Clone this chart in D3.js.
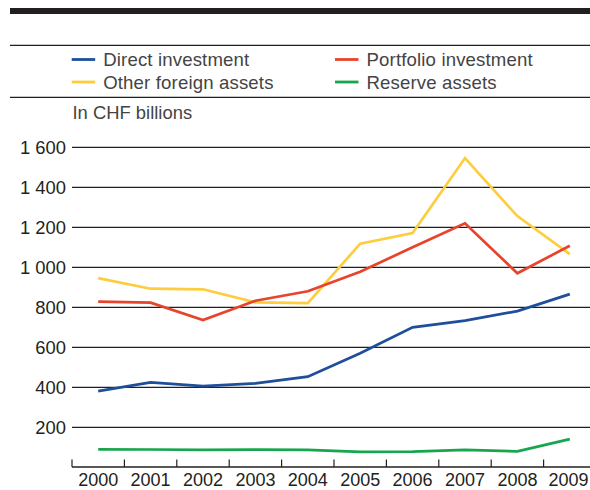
<!DOCTYPE html>
<html>
<head>
<meta charset="utf-8">
<script src="https://cdn.jsdelivr.net/npm/d3@7"></script>
<style>
  html, body { margin: 0; padding: 0; background: #fff; }
  svg { display: block; font-family: "Liberation Sans", Arial, Helvetica, sans-serif; }
</style>
</head>
<body>
<svg id="chart" width="590" height="490"></svg>
<script>
const years = ["2000","2001","2002","2003","2004","2005","2006","2007","2008","2009"];
const directInvestment    = [381, 425, 406, 420, 453, 570, 700, 733, 781, 866];
const portfolioInvestment = [828, 823, 736, 833, 880, 978, 1100, 1220, 970, 1108];
const otherForeignAssets  = [946, 893, 890, 825, 821, 1118, 1171, 1546, 1256, 1066];
const reserveAssets       = [90, 89, 87, 88, 87, 77, 78, 87, 80, 141];
const yTicks = [200, 400, 600, 800, 1000, 1200, 1400, 1600];
const unitLabel = "In CHF billions";

const series = [
  { name: "Direct investment",    values: directInvestment,    color: "#1f4e9b" },
  { name: "Portfolio investment", values: portfolioInvestment, color: "#e8432b" },
  { name: "Other foreign assets", values: otherForeignAssets,  color: "#fdcd3e" },
  { name: "Reserve assets",       values: reserveAssets,       color: "#17a54e" }
];
const legendOrder = [series[0], series[1], series[2], series[3]];

const svg = d3.select("#chart");
const W = 590;

const x = d3.scaleBand().domain(years).range([72, 596]).padding(0);
const y = d3.scaleLinear().domain([0, 1600]).range([467.3, 147.3]);

// Header rules
svg.append("rect").attr("x", 10).attr("y", 8).attr("width", W - 10).attr("height", 6).attr("fill", "#231f20");
svg.append("line").attr("x1", 10).attr("x2", W).attr("y1", 45.3).attr("y2", 45.3).attr("stroke", "#231f20").attr("stroke-width", 1.2);
svg.append("line").attr("x1", 10).attr("x2", W).attr("y1", 97.3).attr("y2", 97.3).attr("stroke", "#231f20").attr("stroke-width", 1.2);

// Legend
const legCols = [71.7, 335];
const legRows = [59.5, 82];
legendOrder.forEach((s, i) => {
  const cx = legCols[i % 2], cy = legRows[Math.floor(i / 2)];
  svg.append("line").attr("x1", cx).attr("x2", cx + 23.5).attr("y1", cy).attr("y2", cy)
    .attr("stroke", s.color).attr("stroke-width", 2.8);
  svg.append("text").attr("x", cx + 31.5).attr("y", cy + 6.6)
    .attr("font-size", 18.6).attr("fill", "#444").attr("letter-spacing", 0.15).text(s.name);
});

svg.append("text").attr("x", 72.5).attr("y", 118.7).attr("font-size", 18.4).attr("fill", "#444").text(unitLabel);

// Gridlines
svg.append("g").selectAll("line").data(yTicks).join("line")
  .attr("x1", 72).attr("x2", W)
  .attr("y1", d => y(d)).attr("y2", d => y(d))
  .attr("stroke", "#231f20").attr("stroke-width", 1.2);

// Y labels
svg.append("g").selectAll("text").data(yTicks).join("text")
  .attr("x", 66).attr("y", d => y(d) + 6.2)
  .attr("text-anchor", "end").attr("font-size", 18.4).attr("fill", "#231f20")
  .text(d => d >= 1000 ? Math.floor(d / 1000) + " " + String(d % 1000).padStart(3, "0") : String(d));

// X axis
const xAxis = d3.axisBottom(x).tickSize(0).tickFormat("");
const gx = svg.append("g").attr("transform", `translate(0,${y(0) - 0.3})`).call(xAxis);
gx.select(".domain").remove();
gx.append("line").attr("x1", 72).attr("x2", W).attr("y1", 0).attr("y2", 0)
  .attr("stroke", "#231f20").attr("stroke-width", 1.3);
const bounds = years.map(d => x(d));
gx.selectAll("line.tk").data(bounds).join("line").attr("class", "tk")
  .attr("x1", d => d).attr("x2", d => d).attr("y1", 0).attr("y2", -7.5)
  .attr("stroke", "#231f20").attr("stroke-width", 1.2);
svg.append("g").selectAll("text").data(years).join("text")
  .attr("x", d => Math.min(x(d) + x.bandwidth() / 2, 568.5)).attr("y", 485.5)
  .attr("text-anchor", "middle").attr("font-size", 18).attr("fill", "#231f20")
  .text(d => d);

// Lines
const line = d3.line().x((d, i) => x(years[i]) + x.bandwidth() / 2).y(d => y(d));
const drawOrder = [series[3], series[0], series[2], series[1]];
svg.append("g").selectAll("path").data(drawOrder).join("path")
  .attr("d", s => line(s.values))
  .attr("fill", "none").attr("stroke", s => s.color)
  .attr("stroke-width", 2.7).attr("stroke-linejoin", "miter");
</script>
</body>
</html>
